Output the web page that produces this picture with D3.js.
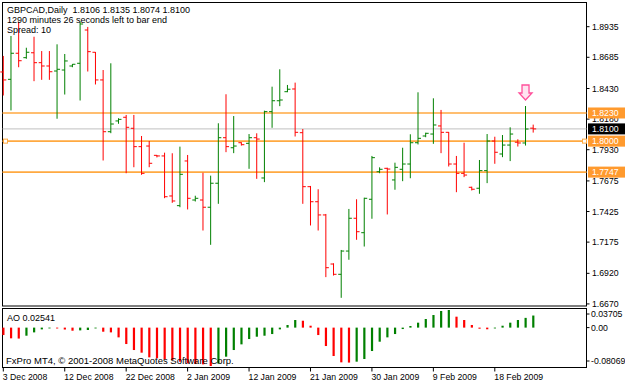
<!DOCTYPE html>
<html>
<head>
<meta charset="utf-8">
<script src="https://cdn.jsdelivr.net/npm/d3@7/dist/d3.min.js"></script>
<style>
  body { margin: 0; background: #ffffff; }
  svg { display: block; font-family: "Liberation Sans", Arial, sans-serif; }
</style>
</head>
<body>
<div id="chart"></div>
<script>

/*******************************************************************************
*** DATA ***********************************************************************
*******************************************************************************/

const symbol = "GBPCAD,Daily";

const dates = [
  "2008-12-03","2008-12-04","2008-12-05","2008-12-07","2008-12-08","2008-12-09","2008-12-10","2008-12-11",
  "2008-12-12","2008-12-14","2008-12-15","2008-12-16","2008-12-17","2008-12-18","2008-12-19","2008-12-21",
  "2008-12-22","2008-12-23","2008-12-24","2008-12-26","2008-12-28","2008-12-29","2008-12-30","2008-12-31",
  "2009-01-02","2009-01-04","2009-01-05","2009-01-06","2009-01-07","2009-01-08","2009-01-09","2009-01-11",
  "2009-01-12","2009-01-13","2009-01-14","2009-01-15","2009-01-16","2009-01-18","2009-01-19","2009-01-20",
  "2009-01-21","2009-01-22","2009-01-23","2009-01-25","2009-01-26","2009-01-27","2009-01-28","2009-01-29",
  "2009-01-30","2009-02-01","2009-02-02","2009-02-03","2009-02-04","2009-02-05","2009-02-06","2009-02-08",
  "2009-02-09","2009-02-10","2009-02-11","2009-02-12","2009-02-13","2009-02-15","2009-02-16","2009-02-17",
  "2009-02-18","2009-02-19","2009-02-20","2009-02-22","2009-02-23","2009-02-24"
];

const opens = [
  1.8565,1.8505,1.8718,1.8682,1.8722,1.8641,1.8614,1.8573,1.8581,1.8614,
  1.8636,1.8908,1.8726,1.8500,1.8077,1.8165,1.8195,1.8105,1.7955,1.7960,
  1.7884,1.7879,1.7552,1.7473,1.7838,1.7519,1.7519,1.7460,1.7656,1.8028,
  1.7946,1.7987,1.7982,1.8028,1.7699,1.8241,1.8330,1.8404,1.8426,1.8069,
  1.7628,1.7505,1.7397,1.6996,1.6912,1.7102,1.7370,1.7252,1.7525,1.7750,
  1.7778,1.7683,1.7770,1.7813,1.7987,1.8042,1.8058,1.8124,1.8072,1.7813,
  1.7737,1.7623,1.7615,1.7759,1.8001,1.7895,1.7968,1.7991,1.7985,1.8106
];

const highs = [
  1.8696,1.8859,1.8976,1.8763,1.8853,1.8736,1.8736,1.8791,1.8712,1.8630,
  1.8976,1.8933,1.8728,1.8581,1.8636,1.8187,1.8214,1.8214,1.8042,1.8001,
  1.7887,1.7906,1.7901,1.7955,1.7887,1.7554,1.7742,1.7718,1.8146,1.8383,
  1.8205,1.7991,1.8058,1.8064,1.8249,1.8445,1.8587,1.8459,1.8478,1.8099,
  1.7634,1.7607,1.7405,1.7002,1.7111,1.7446,1.7525,1.7538,1.7879,1.7786,
  1.7783,1.7824,1.7946,1.8056,1.8399,1.8069,1.8350,1.8255,1.8075,1.7879,
  1.7987,1.7628,1.7846,1.8058,1.8036,1.8050,1.8113,1.8015,1.8287,1.8135
];

const lows = [
  1.8377,1.8255,1.8608,1.8677,1.8494,1.8505,1.8505,1.8187,1.8385,1.8608,
  1.8336,1.8573,1.8467,1.7846,1.8069,1.8146,1.7742,1.7791,1.7729,1.7791,
  1.7871,1.7538,1.7500,1.7464,1.7446,1.7511,1.7274,1.7157,1.7492,1.7914,
  1.7906,1.7968,1.7778,1.7696,1.7669,1.8113,1.8290,1.8404,1.8042,1.7492,
  1.7315,1.7274,1.6893,1.6906,1.6724,1.7035,1.7198,1.7143,1.7370,1.7742,
  1.7405,1.7607,1.7677,1.7701,1.7977,1.8036,1.7982,1.7906,1.7797,1.7587,
  1.7710,1.7601,1.7574,1.7661,1.7819,1.7873,1.7841,1.7960,1.7968,1.8074
];

const closes = [
  1.8500,1.8718,1.8657,1.8726,1.8641,1.8614,1.8567,1.8587,1.8655,1.8628,
  1.8957,1.8731,1.8500,1.8077,1.8140,1.8178,1.8113,1.7955,1.7737,1.7819,
  1.7879,1.7546,1.7511,1.7729,1.7533,1.7533,1.7460,1.7656,1.8028,1.7955,
  1.7960,1.7971,1.8028,1.8017,1.8241,1.8330,1.8336,1.8424,1.8072,1.7628,
  1.7505,1.7397,1.6966,1.6912,1.7102,1.7370,1.7260,1.7533,1.7865,1.7770,
  1.7772,1.7786,1.7813,1.7987,1.8023,1.8064,1.8132,1.8072,1.7813,1.7737,
  1.7723,1.7607,1.7759,1.8001,1.7909,1.7968,1.8058,1.7985,1.8099,1.8100
];

/* Awesome Oscillator, one value per bar */
const aoValues = [
  -0.0156,-0.0225,-0.0230,-0.0170,-0.0100,-0.0037,-0.0010,-0.0018,-0.0040,-0.0065,
  -0.0058,-0.0050,-0.0016,-0.0086,-0.0100,-0.0205,-0.0345,-0.0471,-0.0527,-0.0625,
  -0.0646,-0.0667,-0.0680,-0.0716,-0.0751,-0.0765,-0.0772,-0.08069,-0.0755,-0.0611,
  -0.0471,-0.0352,-0.0240,-0.0191,-0.0170,-0.0135,-0.0037,0.0055,0.0160,0.0145,
  0.0040,-0.0156,-0.0387,-0.0597,-0.0730,-0.0735,-0.0716,-0.0660,-0.0492,-0.0296,
  -0.0205,-0.0135,-0.0030,0.0034,0.0104,0.0181,0.0265,0.0350,0.03705,0.0230,
  0.0160,0.0055,-0.0023,-0.0035,-0.0002,0.0040,0.0104,0.0160,0.0205,0.02541
];

const priceTicks = [1.8935, 1.8685, 1.8430, 1.8180, 1.7930, 1.7675, 1.7425, 1.7175, 1.6920, 1.6670];
const aoTicks = [0.03705, 0, -0.08069];
const aoTickLabels = ["0.03705", "0.00", "-0.08069"];
const dateTicks = ["2008-12-03","2008-12-12","2008-12-22","2009-01-02","2009-01-12",
                   "2009-01-21","2009-01-30","2009-02-09","2009-02-18"];

const levels = [1.8230, 1.8000, 1.7747];   /* horizontal lines */
const bidPrice = 1.8100;
const arrowBar = "2009-02-23";             /* down arrow sits over this bar */

/*******************************************************************************
*** CHART **********************************************************************
*******************************************************************************/

function barChart() {
  let
    width = 625,
    height = 385,
    left = 2.5,
    right = 586.5,
    mainTop = 2.5,
    mainBottom = 306,
    aoTop = 308.5,
    aoBottom = 367.5,
    upColor = "#008000",
    downColor = "#ff0000",
    levelColor = "#ffa940",
    tick = 3
    ;

  let bars = dates.map(function(d, i) {
    return {date: d, o: opens[i], h: highs[i], l: lows[i], c: closes[i], ao: aoValues[i]};
  });

  let svg = d3.select("#chart")
              .append("svg")
              .attr("width", width)
              .attr("height", height);

  svg.append("rect")
     .attr("width", width)
     .attr("height", height)
     .attr("fill", "#ffffff");

  /* scales */
  let x = d3.scalePoint()
            .domain(dates)
            .range([3.3, 533.2]);

  let y = d3.scaleLinear()
            .domain([1.66531, 1.91286])
            .range([306, 3]);

  let yAO = d3.scaleLinear()
              .domain([-0.08069, 0.03705])
              .range([366, 310]);

  /* window frames */
  svg.append("rect")
     .attr("x", left).attr("y", mainTop)
     .attr("width", right - left).attr("height", mainBottom - mainTop)
     .attr("fill", "none").attr("stroke", "#000");

  svg.append("rect")
     .attr("x", left).attr("y", aoTop)
     .attr("width", right - left).attr("height", aoBottom - aoTop)
     .attr("fill", "none").attr("stroke", "#000");

  /* bid line and horizontal levels */
  svg.append("line")
     .attr("x1", left).attr("x2", right)
     .attr("y1", y(bidPrice)).attr("y2", y(bidPrice))
     .attr("stroke", "#c0c0c0");

  svg.selectAll(".level")
     .data(levels)
     .enter().append("line")
     .attr("class", "level")
     .attr("x1", left).attr("x2", right)
     .attr("y1", function(d) { return y(d); })
     .attr("y2", function(d) { return y(d); })
     .attr("stroke", levelColor)
     .attr("stroke-width", 1.6);

  /* selected-line handles on the 1.8000 level */
  svg.selectAll(".handle")
     .data([left + 1, right - 4])
     .enter().append("rect")
     .attr("class", "handle")
     .attr("x", function(d) { return d; })
     .attr("y", y(levels[1]) - 2)
     .attr("width", 4).attr("height", 4)
     .attr("fill", "#fff")
     .attr("stroke", levelColor);

  /* OHLC bars */
  let g = svg.selectAll("g.bar")
             .data(bars)
             .enter().append("g")
             .attr("class", "bar")
             .attr("stroke", function(d) { return d.c >= d.o ? upColor : downColor; });

  g.append("line")
   .attr("x1", function(d) { return x(d.date); })
   .attr("x2", function(d) { return x(d.date); })
   .attr("y1", function(d) { return y(d.h); })
   .attr("y2", function(d) { return y(d.l) + 0.5; });

  g.append("line")   /* open */
   .attr("x1", function(d) { return x(d.date) - tick; })
   .attr("x2", function(d) { return x(d.date); })
   .attr("y1", function(d) { return y(d.o); })
   .attr("y2", function(d) { return y(d.o); });

  g.append("line")   /* close */
   .attr("x1", function(d) { return x(d.date); })
   .attr("x2", function(d) { return x(d.date) + tick; })
   .attr("y1", function(d) { return y(d.c); })
   .attr("y2", function(d) { return y(d.c); });

  /* down arrow */
  let ab = bars[dates.indexOf(arrowBar)];
  let ax = x(ab.date), ay = y(ab.h) - 21;
  svg.append("path")
     .attr("d", "M" + (ax - 3.5) + "," + ay +
                "H" + (ax + 3.5) + "V" + (ay + 8) +
                "H" + (ax + 6.5) + "L" + ax + "," + (ay + 15) +
                "L" + (ax - 6.5) + "," + (ay + 8) +
                "H" + (ax - 3.5) + "Z")
     .attr("fill", "#ffe4f0")
     .attr("stroke", "#ff4f9a")
     .attr("stroke-width", 1.3);

  /* header texts */
  let last = bars[bars.length - 1];
  let header = [
    symbol + "  " + [last.o, last.h, last.l, last.c].map(function(v) { return v.toFixed(4); }).join(" "),
    "1290 minutes 26 seconds left to bar end",
    "Spread: 10"
  ];
  svg.selectAll(".header")
     .data(header)
     .enter().append("text")
     .attr("class", "header")
     .attr("x", 7)
     .attr("y", function(d, i) { return 13.3 + i * 10; })
     .style("font-size", "9px")
     .style("white-space", "pre")
     .attr("fill", "#000")
     .text(function(d) { return d; });

  /* right price axis */
  svg.selectAll(".ptick")
     .data(priceTicks)
     .enter().append("line")
     .attr("class", "ptick")
     .attr("x1", right).attr("x2", right + 3)
     .attr("y1", function(d) { return y(d); })
     .attr("y2", function(d) { return y(d); })
     .attr("stroke", "#000");

  svg.selectAll(".plabel")
     .data(priceTicks)
     .enter().append("text")
     .attr("class", "plabel")
     .attr("x", 592)
     .attr("y", function(d) { return y(d); })
     .attr("dy", "0.35em")
     .style("font-size", "8.7px")
     .attr("fill", "#000")
     .text(function(d) { return d.toFixed(4); });

  /* price boxes for levels and bid */
  let boxes = levels.map(function(v) { return {v: v, fill: "#ff9a2e"}; })
                    .concat([{v: bidPrice, fill: "#000000"}]);

  let bg = svg.selectAll(".pbox")
              .data(boxes)
              .enter().append("g")
              .attr("class", "pbox")
              .attr("transform", function(d) { return "translate(588," + y(d.v) + ")"; });

  bg.append("rect")
    .attr("y", -5.5)
    .attr("width", 37)
    .attr("height", 11)
    .attr("fill", function(d) { return d.fill; });

  bg.append("text")
    .attr("x", 4)
    .attr("dy", "0.35em")
    .style("font-size", "8.7px")
    .attr("fill", "#fff")
    .text(function(d) { return d.v.toFixed(4); });

  /* AO histogram */
  svg.selectAll(".ao")
     .data(bars)
     .enter().append("rect")
     .attr("class", "ao")
     .attr("x", function(d) { return x(d.date) - 1; })
     .attr("width", 2.2)
     .attr("y", function(d) { return Math.min(yAO(0), yAO(d.ao)); })
     .attr("height", function(d) { return Math.max(0.8, Math.abs(yAO(d.ao) - yAO(0))); })
     .attr("fill", function(d, i) {
       return (i > 0 && d.ao > bars[i - 1].ao) ? upColor : downColor;
     });

  svg.append("text")
     .attr("x", 7)
     .attr("y", aoTop + 12.2)
     .style("font-size", "9px")
     .attr("fill", "#000")
     .text("AO " + last.ao.toFixed(5));

  svg.append("text")
     .attr("x", 6)
     .attr("y", 364)
     .style("font-size", "9.5px")
     .attr("fill", "#000")
     .text("FxPro MT4, \u00a9 2001-2008 MetaQuotes Software Corp.");

  /* AO axis: max / min labels pulled inside the window */
  let aoLabelY = function(v) { return Math.max(314, Math.min(361, yAO(v))); };

  svg.selectAll(".aotick")
     .data(aoTicks)
     .enter().append("line")
     .attr("class", "aotick")
     .attr("x1", right).attr("x2", right + 3)
     .attr("y1", aoLabelY).attr("y2", aoLabelY)
     .attr("stroke", "#000");

  svg.selectAll(".aolabel")
     .data(aoTicks)
     .enter().append("text")
     .attr("class", "aolabel")
     .attr("x", 591)
     .attr("y", aoLabelY)
     .attr("dy", "0.35em")
     .style("font-size", "8.7px")
     .attr("fill", "#000")
     .text(function(d, i) { return aoTickLabels[i]; });

  /* date axis */
  let fmt = d3.timeFormat("%-d %b %Y"),
      parse = d3.timeParse("%Y-%m-%d");

  svg.selectAll(".dtick")
     .data(dateTicks)
     .enter().append("line")
     .attr("class", "dtick")
     .attr("x1", function(d) { return x(d); })
     .attr("x2", function(d) { return x(d); })
     .attr("y1", aoBottom).attr("y2", aoBottom + 4)
     .attr("stroke", "#000");

  svg.selectAll(".dlabel")
     .data(dateTicks)
     .enter().append("text")
     .attr("class", "dlabel")
     .attr("x", function(d) { return x(d) - 0.5; })
     .attr("y", 380)
     .style("font-size", "8.7px")
     .attr("fill", "#000")
     .text(function(d) { return fmt(parse(d)); });
}

barChart();

</script>
</body>
</html>
